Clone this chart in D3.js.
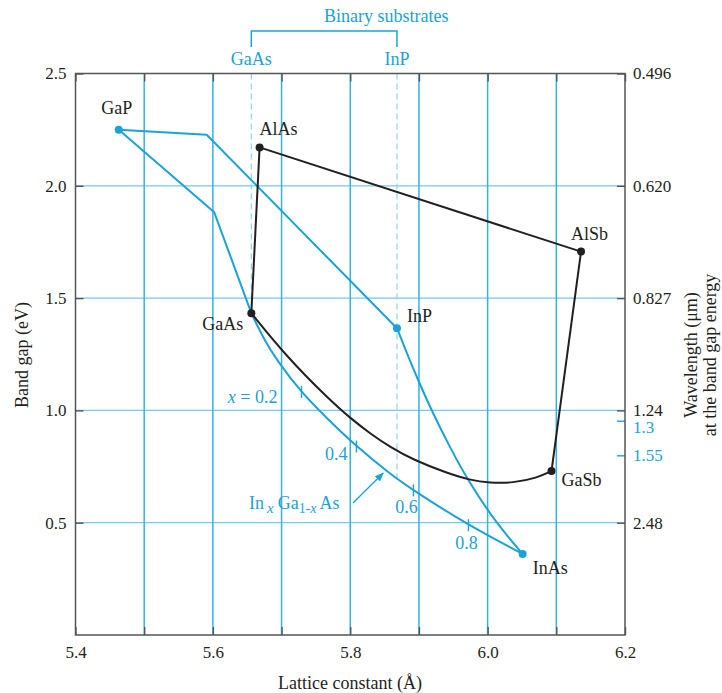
<!DOCTYPE html>
<html><head><meta charset="utf-8">
<script src="https://cdn.jsdelivr.net/npm/d3@7"></script>
<style>
body{margin:0;background:#fff;}
text{font-family:"Liberation Serif","Times New Roman",serif;}
</style></head><body>
<svg id="chart" width="722" height="693"></svg>
<script>
// ---------------- data ----------------
const latticeTicks = [5.4, 5.5, 5.6, 5.7, 5.8, 5.9, 6.0, 6.1, 6.2];
const latticeTickLabels = ["5.4", "", "5.6", "", "5.8", "", "6.0", "", "6.2"];
const gapTicks = [0.5, 1.0, 1.5, 2.0, 2.5];
const gapTickLabels = ["0.5", "1.0", "1.5", "2.0", "2.5"];
const gridLattice = [5.5, 5.6, 5.7, 5.8, 5.9, 6.0, 6.1];
const gridGap = [0.5, 1.0, 1.5, 2.0];
const wavelengthLabels = ["0.496", "0.620", "0.827", "1.24", "1.3", "1.55", "2.48"];
const wavelengthGap = [2.5, 2.0, 1.5, 1.0, 0.954, 0.8, 0.5];
const wavelengthHighlight = [false, false, false, false, true, true, false];

const binaryNames   = ["GaP", "AlAs", "AlSb", "GaSb", "InAs", "InP", "GaAs"];
const binaryLattice = [5.463, 5.668, 6.136, 6.093, 6.051, 5.868, 5.656];
const binaryGap     = [2.25, 2.171, 1.707, 0.730, 0.361, 1.366, 1.433];
const binaryBlue    = [true, false, false, false, true, true, false];

const gapToInpPath  = [[5.463, 2.25], [5.591, 2.227], [5.868, 1.366]];
const gapToGaasPath = [[5.463, 2.25], [5.602, 1.882], [5.656, 1.433]];
const inGaAsPath = [[5.656, 1.433], [5.674, 1.318], [5.693, 1.224], [5.728, 1.082], [5.767, 0.962],
                    [5.808, 0.842], [5.858, 0.717], [5.891, 0.646], [5.971, 0.490], [6.051, 0.361]];
const inpToInasPath = [[5.868, 1.366], [5.882, 1.258], [5.899, 1.133], [5.918, 1.002], [5.947, 0.824],
                       [5.974, 0.675], [6.013, 0.496], [6.051, 0.361]];
const gaasToAlasPath = [[5.656, 1.433], [5.668, 2.171]];
const alasToAlsbPath = [[5.668, 2.171], [6.136, 1.707]];
const alsbToGasbPath = [[6.136, 1.707], [6.093, 0.730]];
const gasbToGaasPath = [[6.093, 0.730], [6.072, 0.699], [6.037, 0.677], [6.003, 0.677], [5.974, 0.690],
                        [5.941, 0.721], [5.891, 0.781], [5.858, 0.837], [5.829, 0.897], [5.800, 0.966],
                        [5.770, 1.046], [5.705, 1.247], [5.656, 1.433]];

const compLabels  = ["0.2", "0.4", "0.6", "0.8"];
const compLattice = [5.729, 5.809, 5.892, 5.972];
const compGap     = [1.082, 0.839, 0.644, 0.489];

const substrateNames   = ["GaAs", "InP"];
const substrateLattice = [5.656, 5.868];
const substrateDashEnd = [1.433, 0.685];

const arrowFrom = [5.804, 0.588];
const arrowTo   = [5.848, 0.721];

// ---------------- layout / style ----------------
const mLeft = 75.5, mRight = 625, mTop = 73.5, mBottom = 635;
const BLUE = "#1aa2d9", GRIDV = "#36b1e4", GRIDH = "#74c9ef", DASH = "#8ed3f1";
const AX = "#555", INK = "#231f20";
const FS = "18px", TFS = "17px";

const labelLayout = {
  GaP:  {dx: -2,  dy: -16, anchor: "middle"},
  AlAs: {dx: 0,   dy: -12, anchor: "start"},
  AlSb: {dx: -10, dy: -12, anchor: "start"},
  GaSb: {dx: 10,  dy: 15,  anchor: "start"},
  InAs: {dx: 10,  dy: 20,  anchor: "start"},
  InP:  {dx: 10,  dy: -6,  anchor: "start"},
  GaAs: {dx: -8,  dy: 17,  anchor: "end"}
};
const compLayout = [
  {dx: -24, dy: 11, anchor: "end"},
  {dx: -9,  dy: 13, anchor: "end"},
  {dx: -7,  dy: 23, anchor: "middle"},
  {dx: -2,  dy: 24, anchor: "middle"}
];

const svg = d3.select("#chart");
const x = d3.scaleLinear().domain([5.4, 6.2]).range([mLeft, mRight]);
const y = d3.scaleLinear().domain([0, 2.5]).range([mBottom, mTop]);

// grid
svg.append("g").selectAll("line").data(gridGap).join("line")
  .attr("x1", mLeft).attr("x2", mRight).attr("y1", d => y(d)).attr("y2", d => y(d))
  .attr("stroke", GRIDH).attr("stroke-width", 1.2);
svg.append("g").selectAll("line").data(gridLattice).join("line")
  .attr("x1", d => x(d)).attr("x2", d => x(d)).attr("y1", mTop).attr("y2", mBottom)
  .attr("stroke", GRIDV).attr("stroke-width", 1.5);

// dashed substrate lines
svg.append("g").selectAll("line").data(substrateNames).join("line")
  .attr("x1", (d, i) => x(substrateLattice[i])).attr("x2", (d, i) => x(substrateLattice[i]))
  .attr("y1", mTop).attr("y2", (d, i) => y(substrateDashEnd[i]))
  .attr("stroke", DASH).attr("stroke-width", 1.2).attr("stroke-dasharray", "6,4");

// axes
function styleAxis(g) {
  g.select(".domain").remove();
  g.selectAll(".tick line").attr("stroke", AX).attr("stroke-width", 1.4);
  g.selectAll(".tick text").attr("fill", INK).style("font-size", TFS)
    .style("font-family", "'Liberation Serif', serif");
}
svg.append("g").attr("transform", `translate(0,${mBottom})`)
  .call(d3.axisBottom(x).tickValues(latticeTicks).tickFormat((d, i) => latticeTickLabels[i]).tickSize(-8).tickPadding(11))
  .call(styleAxis);
svg.append("g").attr("transform", `translate(0,${mTop})`)
  .call(d3.axisTop(x).tickValues(latticeTicks).tickFormat("").tickSize(-8))
  .call(styleAxis);
svg.append("g").attr("transform", `translate(${mLeft},0)`)
  .call(d3.axisLeft(y).tickValues(gapTicks).tickFormat((d, i) => gapTickLabels[i]).tickSize(-8).tickPadding(9))
  .call(styleAxis);
const rAx = svg.append("g").attr("transform", `translate(${mRight},0)`)
  .call(d3.axisRight(y).tickValues(wavelengthGap).tickFormat((d, i) => wavelengthLabels[i]).tickSize(-8).tickPadding(8))
  .call(styleAxis);
rAx.selectAll(".tick").each(function(d, i) {
  if (wavelengthHighlight[i]) {
    d3.select(this).select("line").attr("stroke", BLUE);
    d3.select(this).select("text").attr("fill", BLUE);
  }
  if (wavelengthLabels[i] === "1.3") d3.select(this).select("text").attr("dy", "0.72em");
});

// frame
svg.append("rect").attr("x", mLeft).attr("y", mTop).attr("width", mRight - mLeft).attr("height", mBottom - mTop)
  .attr("fill", "none").attr("stroke", AX).attr("stroke-width", 1.5);

// curves
const lin = d3.line().x(d => x(d[0])).y(d => y(d[1]));
const smooth = d3.line().x(d => x(d[0])).y(d => y(d[1])).curve(d3.curveBasis);
const blueLines = [[gapToInpPath, lin], [gapToGaasPath, lin], [inGaAsPath, smooth], [inpToInasPath, smooth]];
const blackLines = [[gaasToAlasPath, lin], [alasToAlsbPath, lin], [alsbToGasbPath, lin], [gasbToGaasPath, smooth]];
svg.append("g").selectAll("path").data(blueLines).join("path")
  .attr("d", d => d[1](d[0])).attr("fill", "none").attr("stroke", BLUE).attr("stroke-width", 2)
  .attr("stroke-linejoin", "round");
svg.append("g").selectAll("path").data(blackLines).join("path")
  .attr("d", d => d[1](d[0])).attr("fill", "none").attr("stroke", INK).attr("stroke-width", 2)
  .attr("stroke-linejoin", "round");

// composition ticks & labels
svg.append("g").selectAll("line").data(compLabels).join("line")
  .attr("x1", (d, i) => x(compLattice[i])).attr("x2", (d, i) => x(compLattice[i]))
  .attr("y1", (d, i) => y(compGap[i]) - 6).attr("y2", (d, i) => y(compGap[i]) + 6)
  .attr("stroke", BLUE).attr("stroke-width", 1.4);
const compText = svg.append("g").selectAll("text").data(compLabels).join("text")
  .attr("x", (d, i) => x(compLattice[i]) + compLayout[i].dx)
  .attr("y", (d, i) => y(compGap[i]) + compLayout[i].dy)
  .attr("text-anchor", (d, i) => compLayout[i].anchor)
  .attr("fill", BLUE).style("font-size", FS);
compText.each(function(d, i) {
  const t = d3.select(this);
  if (i === 0) {
    t.append("tspan").attr("font-style", "italic").text("x");
    t.append("tspan").text(" = " + d);
  } else t.text(d);
});

// InGaAs label with arrow
const lab = svg.append("text").attr("x", 249).attr("y", 509).attr("fill", BLUE).style("font-size", FS);
lab.append("tspan").text("In");
lab.append("tspan").attr("dy", 4).attr("dx", 3).attr("font-style", "italic").style("font-size", "15px").text("x");
lab.append("tspan").attr("dy", -4).attr("dx", 4).text("Ga");
lab.append("tspan").attr("dy", 4).style("font-size", "14px").text("1-");
lab.append("tspan").attr("font-style", "italic").style("font-size", "14px").text("x");
lab.append("tspan").attr("dy", -4).attr("dx", 3).text("As");

svg.append("defs").append("marker").attr("id", "ah").attr("viewBox", "0 0 10 10")
  .attr("refX", 9).attr("refY", 5).attr("markerWidth", 7).attr("markerHeight", 7)
  .attr("orient", "auto").append("path").attr("d", "M0,1 L10,5 L0,9 z").attr("fill", BLUE);
svg.append("line").attr("x1", x(arrowFrom[0])).attr("y1", y(arrowFrom[1]))
  .attr("x2", x(arrowTo[0])).attr("y2", y(arrowTo[1]))
  .attr("stroke", BLUE).attr("stroke-width", 1.3).attr("marker-end", "url(#ah)");

// binary points & labels
svg.append("g").selectAll("circle").data(binaryNames).join("circle")
  .attr("cx", (d, i) => x(binaryLattice[i])).attr("cy", (d, i) => y(binaryGap[i])).attr("r", 4)
  .attr("fill", (d, i) => binaryBlue[i] ? BLUE : INK);
svg.append("g").selectAll("text").data(binaryNames).join("text")
  .attr("x", (d, i) => x(binaryLattice[i]) + labelLayout[d].dx)
  .attr("y", (d, i) => y(binaryGap[i]) + labelLayout[d].dy)
  .attr("text-anchor", d => labelLayout[d].anchor)
  .attr("fill", INK).style("font-size", FS).text(d => d);

// binary substrates header
const bx0 = x(substrateLattice[0]), bx1 = x(substrateLattice[1]);
svg.append("path").attr("d", `M${bx0},47 V31 H${bx1} V47`).attr("fill", "none")
  .attr("stroke", BLUE).attr("stroke-width", 1.5);
svg.append("text").attr("x", (bx0 + bx1) / 2 + 62).attr("y", 22).attr("text-anchor", "middle")
  .attr("fill", BLUE).style("font-size", FS).text("Binary substrates");
svg.append("g").selectAll("text").data(substrateNames).join("text")
  .attr("x", (d, i) => x(substrateLattice[i])).attr("y", 65).attr("text-anchor", "middle")
  .attr("fill", BLUE).style("font-size", FS).text(d => d);

// axis titles
svg.append("text").attr("x", 350).attr("y", 689).attr("text-anchor", "middle")
  .attr("fill", INK).style("font-size", FS).text("Lattice constant (Å)");
svg.append("text").attr("transform", "translate(28,355) rotate(-90)").attr("text-anchor", "middle")
  .attr("fill", INK).style("font-size", FS).text("Band gap (eV)");
svg.append("text").attr("transform", "translate(697,355) rotate(-90)").attr("text-anchor", "middle")
  .attr("fill", INK).style("font-size", FS).text("Wavelength (μm)");
svg.append("text").attr("transform", "translate(716,355) rotate(-90)").attr("text-anchor", "middle")
  .attr("fill", INK).style("font-size", FS).text("at the band gap energy");
</script>
</body></html>
